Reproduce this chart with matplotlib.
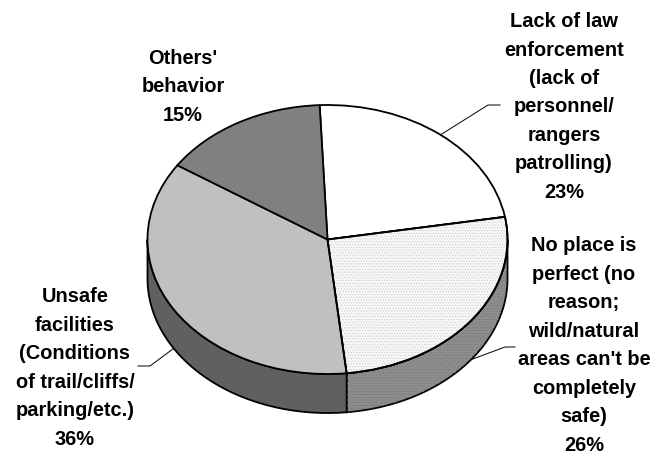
import numpy as np
import matplotlib
matplotlib.use("Agg")
import matplotlib.pyplot as plt
from matplotlib.patches import Wedge

plt.rcParams['font.family'] = ['Liberation Sans', 'DejaVu Sans']
plt.rcParams['hatch.linewidth'] = 0.3

labels = ["Lack of law\nenforcement\n(lack of\npersonnel/\nrangers\npatrolling)\n23%",
          "No place is\nperfect (no\nreason;\nwild/natural\nareas can't be\ncompletely\nsafe)\n26%",
          "Unsafe\nfacilities\n(Conditions\nof trail/cliffs/\nparking/etc.)\n36%",
          "Others'\nbehavior\n15%"]
values = [23, 26, 36, 15]
top_colors = ['#ffffff', '#f6f6f6', '#c0c0c0', '#808080']
side_colors = ['#808080', '#8e8e8e', '#606060', '#505050']
dot_colors = [None, '#c0c0c0', None, None]
side_dots = [None, '#6a6a6a', None, None]

W, H = 661, 455
cx, cy, rx, ry, depth_px = 327.5, 239.5, 180, 134.5, 39
depth = depth_px / ry
EDGE = 1.3

fig = plt.figure(figsize=(W / 100, H / 100), dpi=100, facecolor='white')
ax = fig.add_axes([(cx - rx) / W, 1 - (cy + ry) / H, 2 * rx / W, 2 * ry / H])
wedges, _ = ax.pie(values, startangle=92.5, counterclock=False, colors=top_colors,
                   radius=1, center=(0, 0), wedgeprops=dict(edgecolor='black', linewidth=EDGE, zorder=3))
ax.set_aspect('auto')
ax.set_xlim(-1, 1)
ax.set_ylim(-1, 1)
ax.axis('off')

# extruded side walls (only the front half, angles 180..360) and dot textures
for w, c, dc, sd in zip(wedges, side_colors, dot_colors, side_dots):
    w.set_clip_on(False)
    a, b = w.theta1 % 360, w.theta2 % 360
    if b <= a:
        b += 360
    for shift in (0, 360):
        lo, hi = max(a, 180 + shift), min(b, 360 + shift)
        if hi <= lo:
            continue
        t = np.radians(np.linspace(lo, hi, 200))
        x, y = np.cos(t), np.sin(t)
        px_ = np.r_[x, x[::-1]]
        py_ = np.r_[y, y[::-1] - depth]
        ax.fill(px_, py_, facecolor=c, edgecolor='black', linewidth=EDGE, zorder=1, clip_on=False)
        if sd:
            ax.fill(px_, py_, facecolor='none', edgecolor=sd, hatch='.' * 6, linewidth=0, zorder=1.5, clip_on=False)
    if dc:
        t = np.radians(np.linspace(a, b, 200))
        ax.fill(np.r_[0, np.cos(t)], np.r_[0, np.sin(t)], facecolor='none', edgecolor=dc,
                hatch='.' * 6, linewidth=0, zorder=3.5, clip_on=False)
        w2 = Wedge((0, 0), 1, a, b, facecolor='none', edgecolor='black', linewidth=EDGE, zorder=4, clip_on=False)
        ax.add_patch(w2)


def px(x, y):
    return x / W, 1 - y / H


positions = [(564, 107), (584, 345.5), (75, 368), (183, 87)]
for lab, (x, y) in zip(labels, positions):
    fx, fy = px(x, y)
    fig.text(fx, fy, lab, ha='center', va='center', multialignment='center',
             fontsize=14.4, fontweight='bold', color='black', linespacing=1.63)

# leader lines: start at each wedge's mid angle on the rim
elbows = {0: (488, 105, 500), 1: (505, 347, 515), 2: (150, 366, 138)}
for i, (ex, ey, endx) in elbows.items():
    w = wedges[i]
    m = np.radians((w.theta1 + w.theta2) / 2)
    sx, sy = np.cos(m), np.sin(m)
    if np.sin(m) < 0:
        sy -= depth
    p0 = ax.transData.transform((sx, sy))
    fig.add_artist(plt.Line2D([p0[0] / W, ex / W, endx / W],
                              [p0[1] / H, 1 - ey / H, 1 - ey / H],
                              color='black', linewidth=0.7))

fig.savefig('out.png', dpi=100, facecolor='white')
